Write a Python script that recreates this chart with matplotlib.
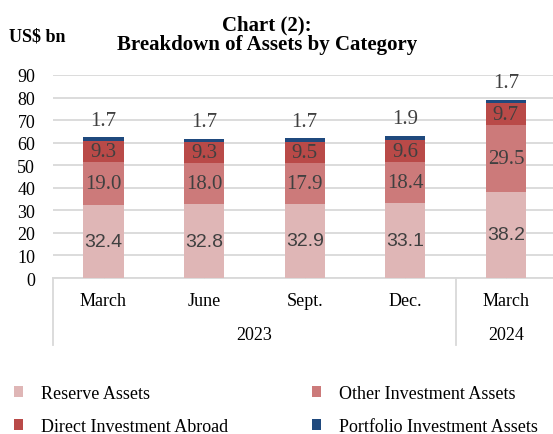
import matplotlib.pyplot as plt
import matplotlib.transforms as mtransforms
import numpy as np

# data (US$ bn)
months = ["March", "June", "Sept.", "Dec.", "March"]
years = ["2023", "2024"]
year_spans = [(0, 3), (4, 4)]  # first and last month index of each year

reserve_assets = [32.4, 32.8, 32.9, 33.1, 38.2]
other_investment = [19.0, 18.0, 17.9, 18.4, 29.5]
direct_investment = [9.3, 9.3, 9.5, 9.6, 9.7]
portfolio_investment = [1.7, 1.7, 1.7, 1.9, 1.7]

series_names = ["Reserve Assets", "Other Investment Assets",
                "Direct Investment Abroad", "Portfolio Investment Assets"]
series_colors = ["#dfb6b6", "#cc7a7a", "#b94a48", "#1f497d"]

serif = "Liberation Serif"
sans = "Liberation Sans"
label_color = "#404040"
grid_color = "#d9d9d9"


def main():
    plt.rcParams['font.family'] = [serif, 'DejaVu Sans']

    fig = plt.figure(figsize=(5.53, 4.35), dpi=100)
    ax = fig.add_axes([53.2 / 553, 156 / 435, 503 / 553, 203 / 435])

    x = np.arange(len(months))
    series = [reserve_assets, other_investment, direct_investment, portfolio_investment]

    bottom = np.zeros(len(months))
    bars = []
    for values, name, color in zip(series, series_names, series_colors):
        b = ax.bar(x, values, width=0.4, bottom=bottom, color=color, label=name, zorder=3)
        bars.append(b)
        bottom = bottom + np.array(values)

    # value labels: first three inside the segments, portfolio above the bar
    bottom = np.zeros(len(months))
    for i, values in enumerate(series[:3]):
        for xi, v, b0 in zip(x, values, bottom):
            ax.text(xi, b0 + v / 2, f"{v:.1f}", ha='center', va='center',
                    fontsize=14 if i == 0 else 15, color=label_color,
                    family=sans if i == 0 else serif, zorder=4)
        bottom = bottom + np.array(values)
    for xi, v, top in zip(x, portfolio_investment, bottom + np.array(portfolio_investment)):
        ax.text(xi, top + 7.5, f"{v:.1f}", ha='center', va='center',
                fontsize=15, color=label_color, zorder=4, clip_on=False)

    ax.set_xlim(-0.5, len(months) - 0.5)
    ax.set_ylim(0, 90)
    ax.set_yticks(range(0, 91, 10))
    ax.yaxis.grid(True, color=grid_color, linewidth=1.3, zorder=0)
    ax.tick_params(axis='y', length=0, pad=13, labelsize=13)

    ax.set_xticks(x)
    ax.set_xticklabels([])
    ax.tick_params(axis='x', direction='in', length=3, width=1, color="#c8c8c8")

    for side in ['top', 'right', 'left']:
        ax.spines[side].set_visible(False)
    ax.spines['bottom'].set_color(grid_color)
    ax.spines['bottom'].set_linewidth(1.3)

    # two level category axis
    trans = mtransforms.blended_transform_factory(ax.transData, ax.transAxes)
    for xi, m in zip(x, months):
        ax.text(xi, -0.11, m, transform=trans, ha='center', va='center', fontsize=13)
    for yr, (i0, i1) in zip(years, year_spans):
        ax.text((i0 + i1) / 2, -0.276, yr, transform=trans, ha='center', va='center', fontsize=13)
        ax.plot([i0 - 0.5, i0 - 0.5], [0, -0.33], transform=trans, color=grid_color,
                linewidth=1.3, clip_on=False)

    # titles
    fig.text(267 / 553, 1 - 30 / 435, "Chart (2):", ha='center', va='baseline',
             fontsize=15, fontweight='bold')
    fig.text(267 / 553, 1 - 50 / 435, "Breakdown of Assets by Category", ha='center',
             va='baseline', fontsize=15, fontweight='bold')
    fig.text(9 / 553, 1 - 37 / 435, "US$ bn", ha='left', va='center',
             fontsize=13, fontweight='bold')

    # legend: row wise order Reserve / Other, Direct / Portfolio
    order = [0, 2, 1, 3]
    fig.legend([bars[i] for i in order], [series_names[i] for i in order],
               ncol=2, loc='upper left', bbox_to_anchor=(5 / 553, 1 - 377 / 435),
               frameon=False, fontsize=13, borderpad=0, handlelength=0.5,
               handleheight=0.5, handletextpad=1.0, labelspacing=0.88,
               columnspacing=4.65)

    fig.savefig("out.png", dpi=100)


if __name__ == '__main__':
    main()
